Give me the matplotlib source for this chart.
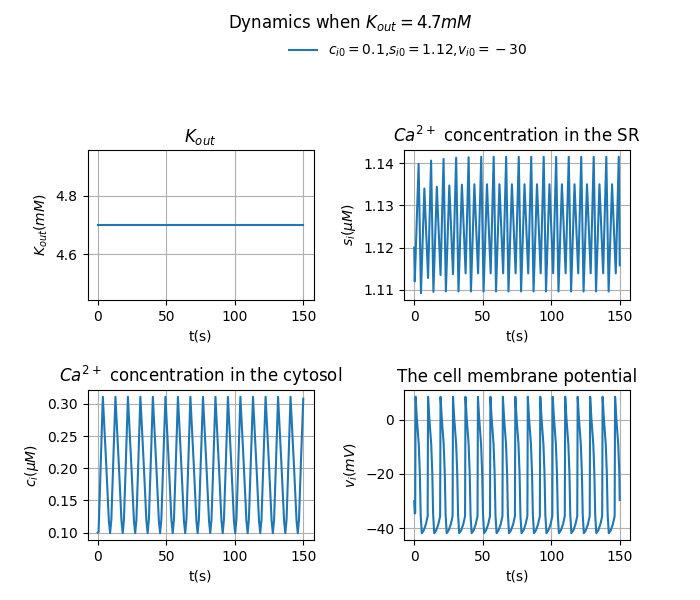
import matplotlib
matplotlib.use("Agg")
import matplotlib.pyplot as plt

# values
k_t = [0, 150]
k_out = [4.7, 4.7]

# SR calcium: start, then per cycle big peak, big trough, small peak, small trough
s_t = [0, 0.4,
       3.2, 4.9, 7.4, 10.1,
       12.3, 14.0, 16.5, 19.2,
       21.4, 23.1, 25.6, 28.3,
       30.6, 32.3, 34.8, 37.5,
       39.7, 41.4, 43.9, 46.6,
       48.9, 50.6, 53.1, 55.8,
       58.0, 59.7, 62.2, 64.9,
       67.1, 68.8, 71.3, 74.0,
       76.3, 78.0, 80.5, 83.2,
       85.4, 87.1, 89.6, 92.3,
       94.5, 96.2, 98.7, 101.4,
       103.6, 105.3, 107.8, 110.5,
       112.8, 114.5, 117.0, 119.7,
       121.9, 123.6, 126.1, 128.8,
       131.0, 132.7, 135.2, 137.9,
       140.2, 141.9, 144.4, 147.1,
       149.3, 150.0]
s_i = [1.1200, 1.1120,
       1.1398, 1.1092, 1.1340, 1.1128,
       1.1406, 1.1095, 1.1344, 1.1135,
       1.1410, 1.1096, 1.1347, 1.1137,
       1.1413, 1.1096, 1.1349, 1.1139,
       1.1414, 1.1096, 1.1350, 1.1139,
       1.1415, 1.1096, 1.1350, 1.1139,
       1.1415, 1.1096, 1.1350, 1.1139,
       1.1415, 1.1096, 1.1350, 1.1139,
       1.1415, 1.1096, 1.1350, 1.1139,
       1.1415, 1.1096, 1.1350, 1.1139,
       1.1415, 1.1096, 1.1350, 1.1139,
       1.1415, 1.1096, 1.1350, 1.1139,
       1.1415, 1.1096, 1.1350, 1.1139,
       1.1415, 1.1096, 1.1350, 1.1139,
       1.1415, 1.1096, 1.1350, 1.1139,
       1.1415, 1.1096, 1.1350, 1.1139,
       1.1415, 1.1158]

# cytosol calcium
c_t = [0, 0.6, 2.2,
       3.7, 6.3, 8.1, 9.0, 9.9, 11.3,
       12.9, 15.5, 17.3, 18.2, 19.1, 20.5,
       22.0, 24.6, 26.4, 27.3, 28.2, 29.6,
       31.1, 33.7, 35.5, 36.4, 37.3, 38.7,
       40.2, 42.8, 44.6, 45.5, 46.4, 47.8,
       49.4, 52.0, 53.8, 54.7, 55.6, 57.0,
       58.5, 61.1, 62.9, 63.8, 64.7, 66.1,
       67.6, 70.2, 72.0, 72.9, 73.8, 75.2,
       76.8, 79.4, 81.2, 82.1, 83.0, 84.4,
       85.9, 88.5, 90.3, 91.2, 92.1, 93.5,
       95.0, 97.6, 99.4, 100.3, 101.2, 102.6,
       104.1, 106.7, 108.5, 109.4, 110.3, 111.7,
       113.3, 115.9, 117.7, 118.6, 119.5, 120.9,
       122.5, 125.1, 126.9, 127.8, 128.7, 130.1,
       131.6, 134.2, 136.0, 136.9, 137.8, 139.2,
       140.7, 143.3, 145.1, 146.0, 146.9, 148.3,
       150.0]
c_i = [0.100, 0.101, 0.210,
       0.311, 0.200, 0.118, 0.099, 0.120, 0.210,
       0.311, 0.200, 0.118, 0.099, 0.120, 0.210,
       0.311, 0.200, 0.118, 0.099, 0.120, 0.210,
       0.311, 0.200, 0.118, 0.099, 0.120, 0.210,
       0.311, 0.200, 0.118, 0.099, 0.120, 0.210,
       0.311, 0.200, 0.118, 0.099, 0.120, 0.210,
       0.311, 0.200, 0.118, 0.099, 0.120, 0.210,
       0.311, 0.200, 0.118, 0.099, 0.120, 0.210,
       0.311, 0.200, 0.118, 0.099, 0.120, 0.210,
       0.311, 0.200, 0.118, 0.099, 0.120, 0.210,
       0.311, 0.200, 0.118, 0.099, 0.120, 0.210,
       0.311, 0.200, 0.118, 0.099, 0.120, 0.210,
       0.311, 0.200, 0.118, 0.099, 0.120, 0.210,
       0.311, 0.200, 0.118, 0.099, 0.120, 0.210,
       0.311, 0.200, 0.118, 0.099, 0.120, 0.210,
       0.311, 0.200, 0.118, 0.099, 0.120, 0.210,
       0.308]

# membrane potential
v_t = [0, 0.35,
       0.7, 1.0, 1.9, 3.3, 4.1, 4.7, 5.5, 6.9, 8.5,
       9.8, 10.1, 11.0, 12.4, 13.2, 13.8, 14.6, 16.0, 17.6,
       18.9, 19.2, 20.1, 21.5, 22.3, 22.9, 23.7, 25.1, 26.7,
       28.0, 28.3, 29.2, 30.6, 31.4, 32.0, 32.8, 34.2, 35.8,
       37.1, 37.4, 38.3, 39.7, 40.5, 41.1, 41.9, 43.3, 44.9,
       46.2, 46.5, 47.4, 48.8, 49.6, 50.2, 51.0, 52.4, 54.0,
       55.3, 55.6, 56.5, 57.9, 58.7, 59.3, 60.1, 61.5, 63.1,
       64.4, 64.7, 65.6, 67.0, 67.8, 68.4, 69.2, 70.6, 72.2,
       73.5, 73.8, 74.7, 76.1, 76.9, 77.5, 78.3, 79.7, 81.3,
       82.6, 82.9, 83.8, 85.2, 86.0, 86.6, 87.4, 88.8, 90.4,
       91.7, 92.0, 92.9, 94.3, 95.1, 95.7, 96.5, 97.9, 99.5,
       100.8, 101.1, 102.0, 103.4, 104.2, 104.8, 105.6, 107.0, 108.6,
       109.9, 110.2, 111.1, 112.5, 113.3, 113.9, 114.7, 116.1, 117.7,
       119.0, 119.3, 120.2, 121.6, 122.4, 123.0, 123.8, 125.2, 126.8,
       128.1, 128.4, 129.3, 130.7, 131.5, 132.1, 132.9, 134.3, 135.9,
       137.2, 137.5, 138.4, 139.8, 140.6, 141.2, 142.0, 143.4, 145.0,
       146.3, 146.6, 147.5, 148.9, 149.7, 150.0]
v_i = [-30.0, -34.5,
       -34.5, 8.4, 0.5, -9, -20, -35, -41.8, -40.8, -38.5,
       -35.5, 8.4, 0.5, -9, -20, -35, -41.8, -40.8, -38.5,
       -35.5, 8.4, 0.5, -9, -20, -35, -41.8, -40.8, -38.5,
       -35.5, 8.4, 0.5, -9, -20, -35, -41.8, -40.8, -38.5,
       -35.5, 8.4, 0.5, -9, -20, -35, -41.8, -40.8, -38.5,
       -35.5, 8.4, 0.5, -9, -20, -35, -41.8, -40.8, -38.5,
       -35.5, 8.4, 0.5, -9, -20, -35, -41.8, -40.8, -38.5,
       -35.5, 8.4, 0.5, -9, -20, -35, -41.8, -40.8, -38.5,
       -35.5, 8.4, 0.5, -9, -20, -35, -41.8, -40.8, -38.5,
       -35.5, 8.4, 0.5, -9, -20, -35, -41.8, -40.8, -38.5,
       -35.5, 8.4, 0.5, -9, -20, -35, -41.8, -40.8, -38.5,
       -35.5, 8.4, 0.5, -9, -20, -35, -41.8, -40.8, -38.5,
       -35.5, 8.4, 0.5, -9, -20, -35, -41.8, -40.8, -38.5,
       -35.5, 8.4, 0.5, -9, -20, -35, -41.8, -40.8, -38.5,
       -35.5, 8.4, 0.5, -9, -20, -35, -41.8, -40.8, -38.5,
       -35.5, 8.4, 0.5, -9, -20, -35, -41.8, -40.8, -38.5,
       -35.5, 8.4, 0.5, -9, -20, -29.6]

label = r'$c_{i0}=0.1$,$s_{i0}=1.12$,$v_{i0}={}-30$'

fig, axs = plt.subplots(2, 2, figsize=(7, 6), dpi=100)
fig.subplots_adjust(left=0.125, right=0.9, bottom=0.1, top=0.75, wspace=0.4, hspace=0.6)
fig.suptitle(r'Dynamics when $K_{out} = 4.7mM$')

ax = axs[0, 0]
ax.plot(k_t, k_out, label=label)
ax.set_title(r'$K_{out}$')
ax.set_ylabel(r'$K_{out}(mM)$')

ax = axs[0, 1]
ax.plot(s_t, s_i)
ax.set_title(r'$Ca^{2+}$ concentration in the SR')
ax.set_ylabel(r'$s_i(\mu M)$')

ax = axs[1, 0]
ax.plot(c_t, c_i)
ax.set_title(r'$Ca^{2+}$ concentration in the cytosol')
ax.set_ylabel(r'$c_i(\mu M)$')

ax = axs[1, 1]
ax.plot(v_t, v_i)
ax.set_title('The cell membrane potential')
ax.set_ylabel(r'$v_i(mV)$')

for ax in axs.flat:
    ax.set_xlabel('t(s)')
    ax.grid(True)

fig.legend(loc='upper center', bbox_to_anchor=(0.583, 0.95), frameon=False)

fig.savefig('out.png')
